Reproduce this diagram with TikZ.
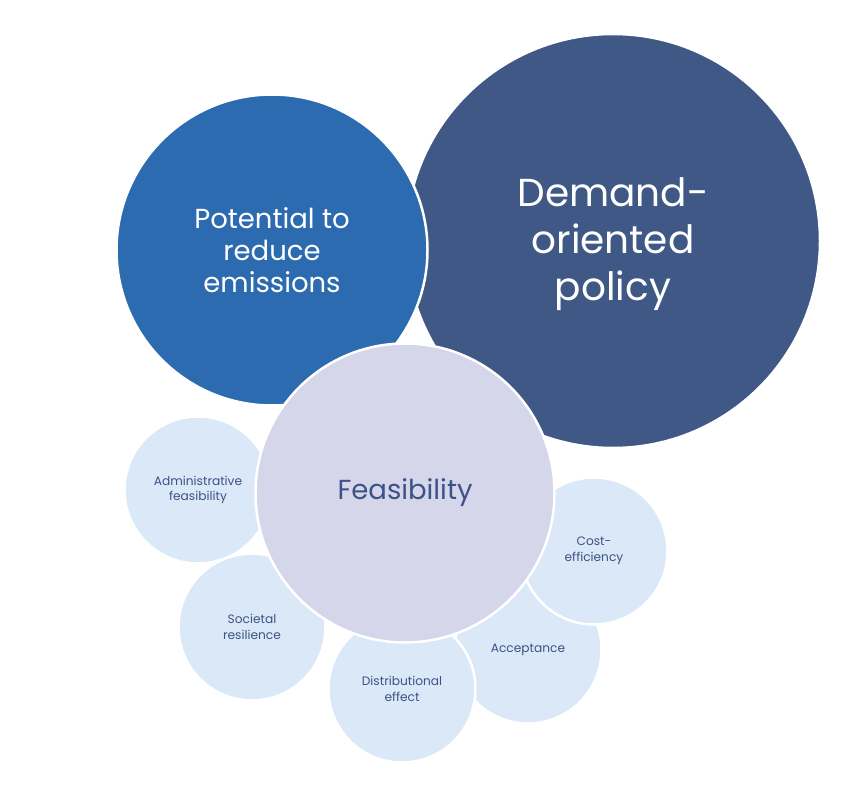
\documentclass[tikz,border=0pt]{standalone}
\usepackage{fontspec}
\setmainfont{Poppins}
\definecolor{demandc}{HTML}{3F5885}
\definecolor{potc}{HTML}{2D6BB0}
\definecolor{feasc}{HTML}{D5D6EA}
\definecolor{smallc}{HTML}{DAE8F7}
\definecolor{txtc}{HTML}{3D5286}
\tikzset{
  bubble/.style={circle, draw=white, line width=2.5pt, inner sep=0pt, align=center},
  bigbub/.style={bubble, fill=demandc, text=white, minimum size=414pt, font=\fontsize{39}{47}\selectfont},
  midbub/.style={bubble, fill=potc, text=white, minimum size=311pt, font=\fontsize{27.5}{32}\selectfont},
  feasbub/.style={bubble, fill=feasc, text=txtc, minimum size=299pt, font=\fontsize{27.5}{30}\selectfont},
  smallbub/.style={bubble, fill=smallc, text=txtc, minimum size=147pt, font=\fontsize{12.2}{15.5}\selectfont},
}
\begin{document}
\begin{tikzpicture}[x=1pt,y=-1pt]
\useasboundingbox (0,0) rectangle (854,794);
\node[bigbub] (demand) at (613,241) {\rule{0pt}{6pt}\\[-18pt]Demand-\\oriented\\policy};
\node[midbub] (potential) at (272,250) {Potential to\\reduce\\emissions};
\node[smallbub] (admin) at (198,490) {Administrative\\feasibility};
\node[smallbub] (societal) at (252,627) {Societal\\resilience};
\node[smallbub] (accept) at (528,650) {Acceptance};
\node[smallbub] (distrib) at (402,689) {Distributional\\effect};
\node[smallbub] (cost) at (594,551) {Cost-\\efficiency};
\node[feasbub] (feas) at (405,493) {Feasibility};
\end{tikzpicture}
\end{document}
